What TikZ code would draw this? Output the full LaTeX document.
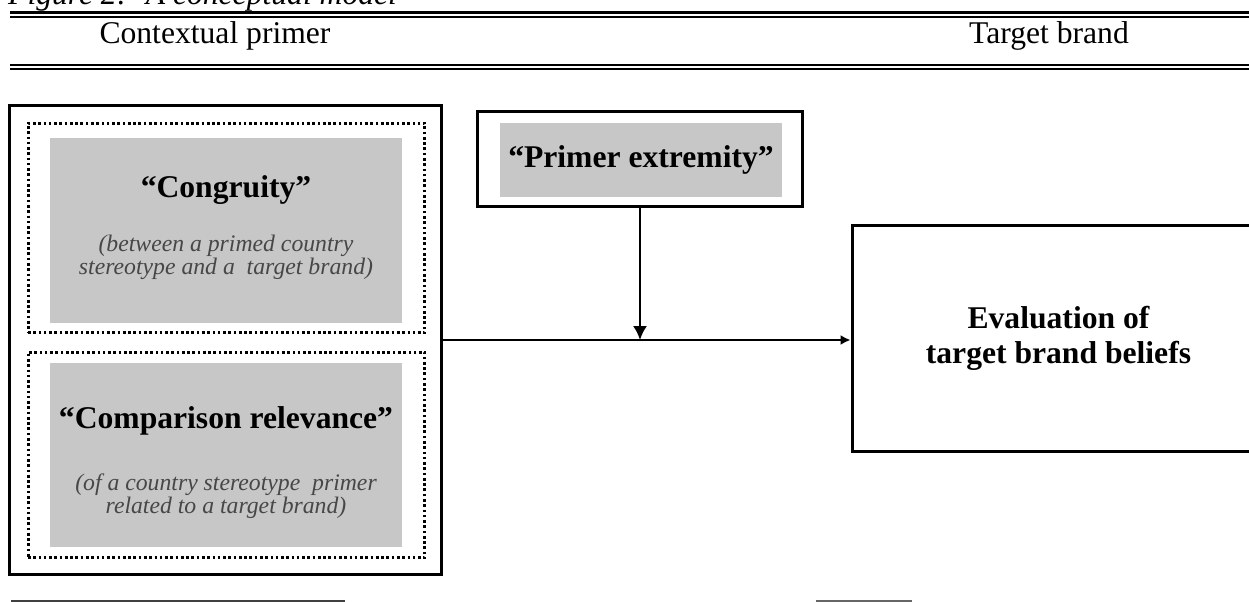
\documentclass[tikz,border=0pt]{standalone}
\usepackage{fontspec}
\setmainfont{Liberation Serif}
\usetikzlibrary{arrows.meta}
\begin{document}
\begin{tikzpicture}[x=0.02cm, y=-0.02cm, >={Latex[length=0.28cm,width=0.28cm]},
    font=\fontsize{18}{21}\selectfont,
    heavybox/.style={draw, line width=1.7pt, inner sep=0pt},
    dotbox/.style={draw, line width=1.7pt, dash pattern=on 1.5pt off 1.5pt,
      inner sep=0pt, minimum width=7.94cm},
    greybox/.style={fill=black!22, inner sep=0pt, minimum width=7.04cm},
    headtxt/.style={anchor=base, font=\fontsize{18}{21}\selectfont\bfseries},
    subtxt/.style={align=center, text=black!72,
      font=\fontsize{13.5}{13.2}\selectfont\itshape},
    link/.style={line width=1.1pt}]
  \useasboundingbox (0,0) rectangle (1249,602);

  % Kopfzeile
  \node[anchor=base west, font=\fontsize{18}{21}\selectfont\itshape] (caption) at (2,4) {Figure 2:~ A conceptual model};
  \draw[line width=1.4pt] (10,12.5) -- (1249,12.5);
  \draw[line width=0.7pt] (10,17) -- (1249,17);
  \node[anchor=base] (ctxlabel) at (215,43) {Contextual primer};
  \node[anchor=base] (tgtlabel) at (1049,43) {Target brand};
  \draw[line width=1.2pt] (10,65) -- (1249,65);
  \draw[line width=0.8pt] (10,69) -- (1249,69);

  % Linker Block
  \node[heavybox, minimum width=8.66cm, minimum height=9.4cm] (primerbox) at (225.5,340) {};
  \node[dotbox, minimum height=4.2cm] (congbox) at (226.5,228) {};
  \node[greybox, minimum height=3.7cm] (congfill) at (226,230.5) {};
  \node[headtxt] (congtxt) at (226,197) {``Congruity''};
  \node[subtxt] (congsub) at (226,257) {(between a primed country\\stereotype and a~ target brand)};

  \node[dotbox, minimum height=4.12cm] (compbox) at (226.5,455) {};
  \node[greybox, minimum height=3.68cm] (compfill) at (226,455) {};
  \node[headtxt] (comptxt) at (226,428) {``Comparison relevance''};
  \node[subtxt] (compsub) at (226,496) {(of a country stereotype~ primer\\related to a target brand)};

  % Moderator
  \node[heavybox, minimum width=6.52cm, minimum height=1.92cm] (extreme) at (640,159) {};
  \node[fill=black!22, inner sep=0pt, minimum width=5.64cm, minimum height=1.48cm] (extremefill) at (641,160) {};
  \node[headtxt] (extremetxt) at (641,167) {``Primer extremity''};

  % Zielblock
  \node[heavybox, minimum width=8.26cm, minimum height=4.54cm, align=center,
    font=\fontsize{18}{19.8}\selectfont\bfseries] (evalbox) at (1058.5,338.5) {Evaluation of\\target brand beliefs};

  % Pfeile
  \coordinate (join) at (extreme.south |- primerbox.east);
  \draw[link, ->] (extreme.south) -- (join);
  \draw[link, -{Latex[length=0.2cm,width=0.2cm]}] (primerbox.east) -- (primerbox.east -| evalbox.west);

  % Fussreste
  \draw[line width=1.1pt, black!75] (11,601) -- (345,601);
  \draw[line width=1.1pt, black!60] (816,601) -- (912,601);
\end{tikzpicture}
\end{document}
